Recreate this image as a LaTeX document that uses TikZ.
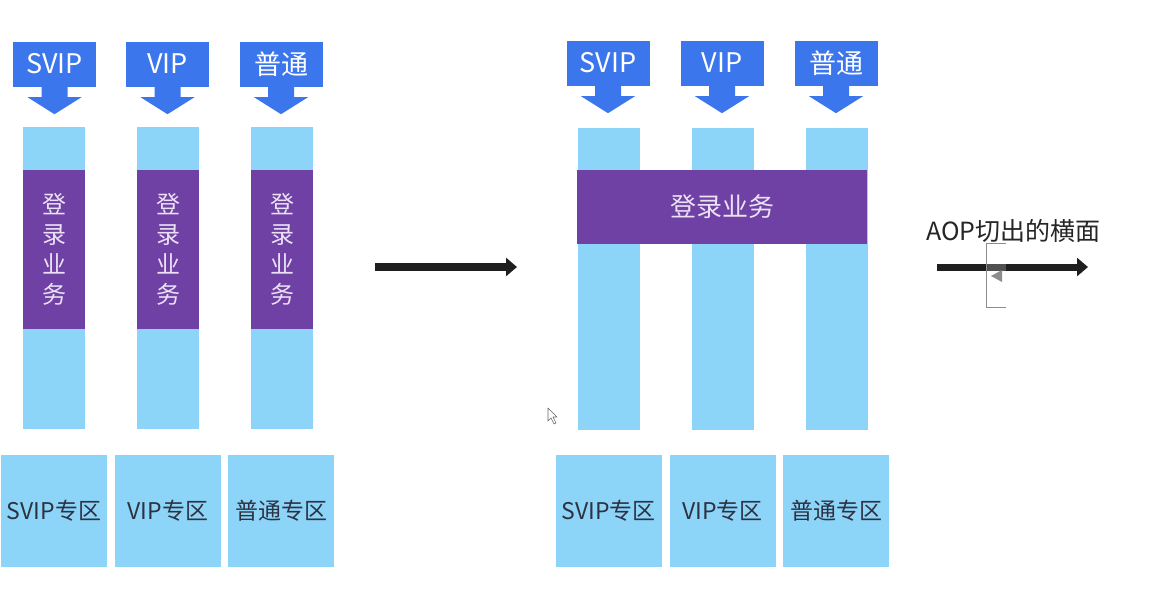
\documentclass[tikz,border=0pt]{standalone}
\usepackage{fontspec}
\setmainfont{Noto Sans CJK SC}
\usetikzlibrary{arrows.meta}
\definecolor{cblue}{RGB}{60,118,236}
\definecolor{lblue}{RGB}{141,212,249}
\definecolor{purp}{RGB}{112,65,164}
\definecolor{txtdark}{RGB}{45,50,65}
\definecolor{purtxt}{RGB}{235,225,245}
\tikzset{
  callout/.style={rectangle, fill=cblue, draw=none, minimum width=83pt, minimum height=45pt, inner sep=0pt,
    text=white, font=\fontsize{27}{32}\selectfont},
  colbar/.style={rectangle, fill=lblue, draw=none, minimum width=62pt, minimum height=302pt, inner sep=0pt},
  purbar/.style={rectangle, fill=purp, draw=none, inner sep=0pt, text=purtxt},
  zone/.style={rectangle, fill=lblue, draw=none, minimum width=106pt, minimum height=112pt, inner sep=0pt,
    text=txtdark, font=\fontsize{23}{28}\selectfont},
  bigarrow/.style={line width=8pt, color=black!88, -{Triangle[width=18pt,length=11pt]}},
}
\newcommand{\calloutarrow}[1]{%
  \fill[cblue] ([xshift=-13pt]#1.south) -- ++(0,-10.5pt) -- ++(-14pt,0) -- ([yshift=-27.5pt]#1.south) -- ++(27pt,17pt) -- ++(-14pt,0) -- ++(0,10.5pt) -- cycle;}
\begin{document}
\begin{tikzpicture}[x=1pt,y=-1pt]
\useasboundingbox (0,0) rectangle (1166,606);
\fill[white] (0,0) rectangle (1166,606);

% ---------- left group ----------
\node[callout] (cl1) at (54.5,64) {SVIP};
\node[callout] (cl2) at (167.5,64) {VIP};
\node[callout] (cl3) at (281,64) {普通};
\calloutarrow{cl1}\calloutarrow{cl2}\calloutarrow{cl3}

\node[colbar] (kl1) at (54,278) {};
\node[colbar] (kl2) at (168,278) {};
\node[colbar] (kl3) at (282,278) {};

\foreach \i/\x in {1/54,2/168,3/282}{
  \node[purbar, minimum width=62pt, minimum height=159pt, align=center,
        font=\fontsize{24}{30}\selectfont] (pl\i) at (\x,249.5) {登\\录\\业\\务};
}

\node[zone] (zl1) at (54,511) {SVIP专区};
\node[zone] (zl2) at (168,511) {VIP专区};
\node[zone] (zl3) at (281,511) {普通专区};

% ---------- middle arrow ----------
\coordinate (m1) at (375,267);
\coordinate (m2) at (517,267);
\draw[bigarrow] (m1) -- (m2);

% ---------- right group ----------
\node[callout] (cr1) at (608,63) {SVIP};
\node[callout] (cr2) at (722,63) {VIP};
\node[callout] (cr3) at (836,63) {普通};
\calloutarrow{cr1}\calloutarrow{cr2}\calloutarrow{cr3}

\node[colbar] (kr1) at (608.5,278.5) {};
\node[colbar] (kr2) at (722.5,278.5) {};
\node[colbar] (kr3) at (836.5,278.5) {};

\node[purbar, minimum width=290pt, minimum height=74pt, font=\fontsize{26}{30}\selectfont] (pr) at (722,207) {登录业务};

\node[zone] (zr1) at (608.5,511) {SVIP专区};
\node[zone] (zr2) at (722.5,511) {VIP专区};
\node[zone] (zr3) at (836,511) {普通专区};

% ---------- AOP arrow ----------
\node[anchor=base west, inner sep=0pt, text=black!85, font=\fontsize{25}{30}\selectfont] (aop) at (926,240) {AOP切出的横面};
\coordinate (r1) at (937,267);
\coordinate (r2) at (1088,267);
\draw[bigarrow, line width=7pt] (r1) -- (r2);

% selection artefact on the arrow
\fill[black!45, opacity=0.45] (986,263.5) rectangle (1006,270.5);
\draw[black!45, line width=0.8pt] (1006,243) -- (986,243) -- (986,307) -- (1006,307);
\fill[black!45] (991,276) -- (1002,270) -- (1002,282) -- cycle;

% mouse pointer
\draw[black!60, fill=white, line width=0.6pt, line join=round]
  (548,408) -- (548,421) -- (551,418) -- (554,424) -- (556,423) -- (553,417) -- (557,417) -- cycle;
\end{tikzpicture}
\end{document}
